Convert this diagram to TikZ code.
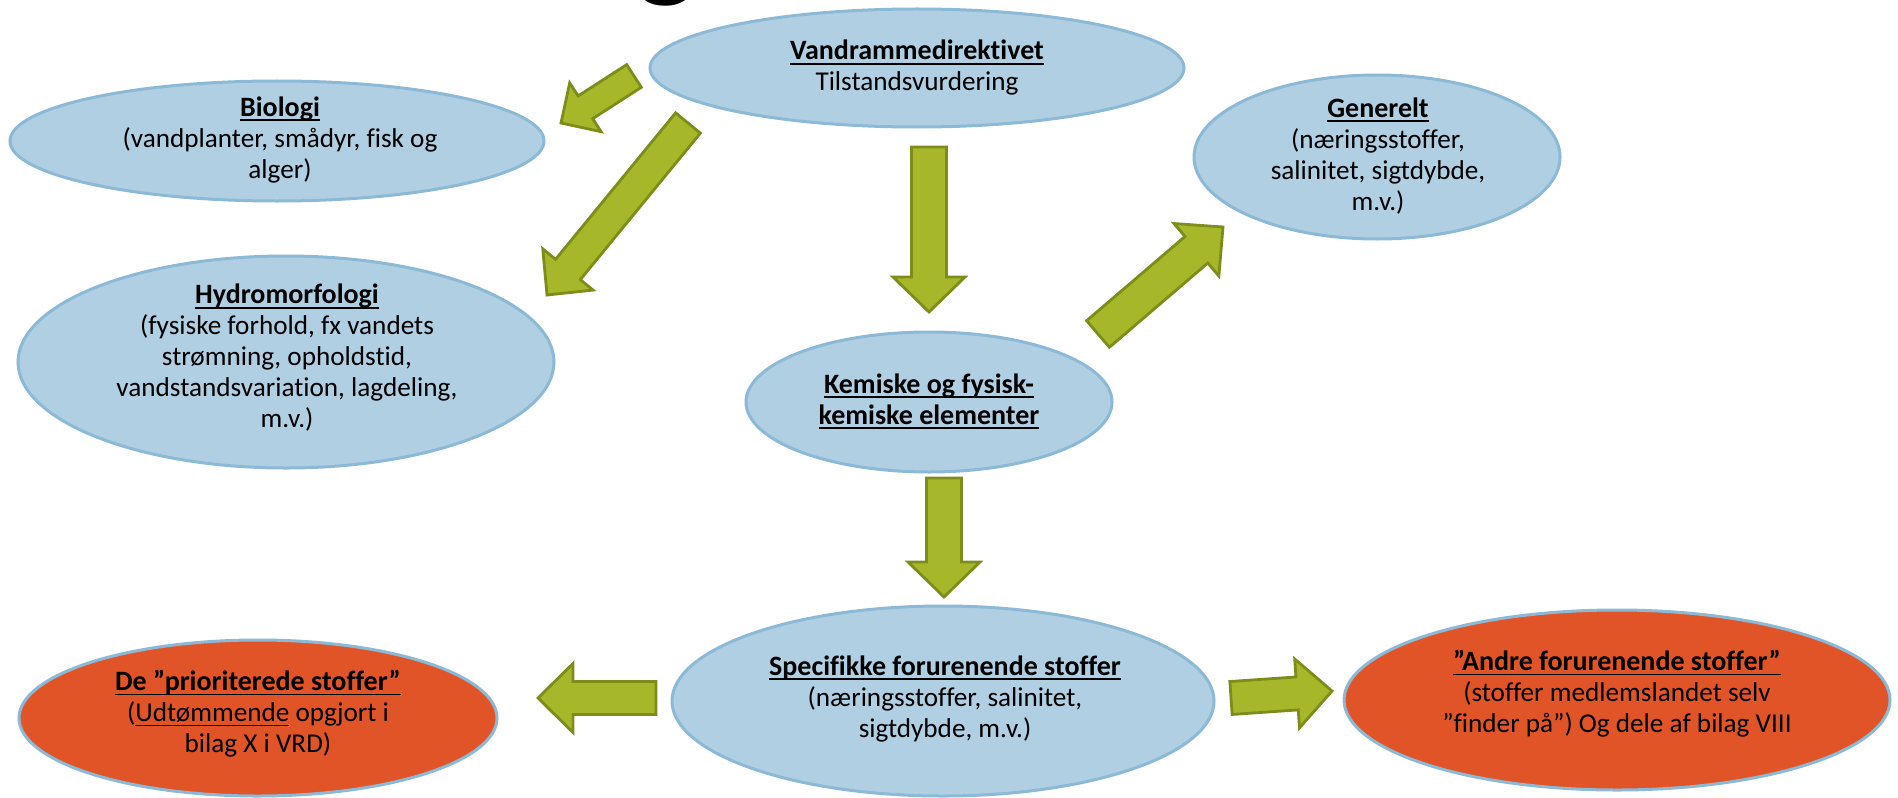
\documentclass[tikz,border=0pt]{standalone}
\usepackage{fontspec}
\setmainfont{Carlito}[Ligatures=NoCommon]
\usetikzlibrary{shapes.geometric,calc}
\definecolor{bfill}{HTML}{B1CFE2}
\definecolor{bline}{HTML}{8CB9D6}
\definecolor{ofill}{HTML}{E05427}
\definecolor{afill}{HTML}{A6B82A}
\definecolor{aline}{HTML}{7D8C1A}
\newcommand\ulx[1]{\leavevmode\setbox0\hbox{#1}\rlap{\raisebox{-0.17em}{\rule{\wd0}{0.07em}}}\box0\relax}
\newcommand\hd[1]{\ulx{\fontsize{14}{15.5}\selectfont\textbf{#1}}}
\newcommand\blockarrow[5]{%
  \coordinate (#1b) at ($(#2)!#5!(#1)$);
  \draw[barrow] ($(#1)!#3!90:(#2)$) -- ($(#1b)!#3!90:(#2)$) -- ($(#1b)!#4!90:(#2)$) -- (#2)
    -- ($(#1b)!#4!-90:(#2)$) -- ($(#1b)!#3!-90:(#2)$) -- ($(#1)!#3!-90:(#2)$) -- cycle;}
\tikzset{
  bell/.style={ellipse, draw=bline, fill=bfill, line width=1.5pt, inner sep=0pt},
  oell/.style={ellipse, draw=bline, fill=ofill, line width=1.5pt, inner sep=0pt},
  txt/.style={align=center, inner sep=0pt, font=\fontsize{13.6}{15.5}\selectfont},
  barrow/.style={draw=aline, fill=afill, line width=1.4pt, line join=miter},
}
\begin{document}
\begin{tikzpicture}[x=0.5pt, y=-0.5pt]
\useasboundingbox (0,0) rectangle (1898,797);
\fill[white] (0,0) rectangle (1898,797);
\clip (0,0) rectangle (1898,797);
\node[anchor=base, inner sep=0pt, font=\fontsize{66}{66}\selectfont] (titleg) at (667,-16) {g};
% ellipses
\node[bell, minimum width=267pt, minimum height=59pt] (vand) at (917,68) {};
\node[bell, minimum width=267pt, minimum height=60pt] (bio) at (277,141) {};
\node[bell, minimum width=183pt, minimum height=82pt] (gen) at (1377,157) {};
\node[bell, minimum width=268pt, minimum height=106pt] (hydro) at (286,362) {};
\node[bell, minimum width=183pt, minimum height=70pt] (kem) at (929,402) {};
\node[bell, minimum width=271pt, minimum height=95pt] (spec) at (943,701) {};
\node[oell, minimum width=239pt, minimum height=78pt] (prio) at (258,718) {};
\node[oell, minimum width=273pt, minimum height=90pt] (andre) at (1617,700) {};
% texts
\node[txt] (vandT) at (917,68) {\hd{Vandrammedirektivet}\\Tilstandsvurdering};
\node[txt] (bioT) at (280,140) {\hd{Biologi}\\(vandplanter, smådyr, fisk og\\alger)};
\node[txt] (genT) at (1378,156) {\hd{Generelt}\\(næringsstoffer,\\salinitet, sigtdybde,\\m.v.)};
\node[txt] (hydroT) at (287,358) {\hd{Hydromorfologi}\\(fysiske forhold, fx vandets\\strømning, opholdstid,\\vandstandsvariation, lagdeling,\\m.v.)};
\node[txt] (kemT) at (929,401) {\hd{Kemiske og fysisk-}\\\hd{kemiske elementer}};
\node[txt] (specT) at (945,699) {\hd{Specifikke forurenende stoffer}\\(næringsstoffer, salinitet,\\sigtdybde, m.v.)};
\node[txt] (prioT) at (258,714) {\hd{De ”prioriterede stoffer”}\\(\ulx{Udtømmende} opgjort i\\bilag X i VRD)};
\node[txt] (andreT) at (1617,694) {\hd{”Andre forurenende stoffer”}\\(stoffer medlemslandet selv\\”finder på”) Og dele af bilag VIII};
% arrows
\coordinate (a1t) at (634,76);   \coordinate (a1h) at (561,123);
\coordinate (a2t) at (688,123);  \coordinate (a2h) at (547,295);
\coordinate (a3t) at (929,147);  \coordinate (a3h) at (929,312);
\coordinate (a4t) at (1098,334); \coordinate (a4h) at (1223,227);
\coordinate (a5t) at (944,478);  \coordinate (a5h) at (944,597);
\coordinate (a6t) at (656,698);  \coordinate (a6h) at (538,698);
\coordinate (a7t) at (1231,698); \coordinate (a7h) at (1332,691);
\blockarrow{a1t}{a1h}{6.75pt}{14.5pt}{14.5pt}
\blockarrow{a2t}{a2h}{8pt}{16.25pt}{16.5pt}
\blockarrow{a3t}{a3h}{8.75pt}{18pt}{17.5pt}
\blockarrow{a4t}{a4h}{8.75pt}{17.25pt}{17.5pt}
\blockarrow{a5t}{a5h}{8.75pt}{18pt}{17.5pt}
\blockarrow{a6t}{a6h}{8.25pt}{17.25pt}{17.5pt}
\blockarrow{a7t}{a7h}{8.25pt}{17.25pt}{17.5pt}
\end{tikzpicture}
\end{document}
